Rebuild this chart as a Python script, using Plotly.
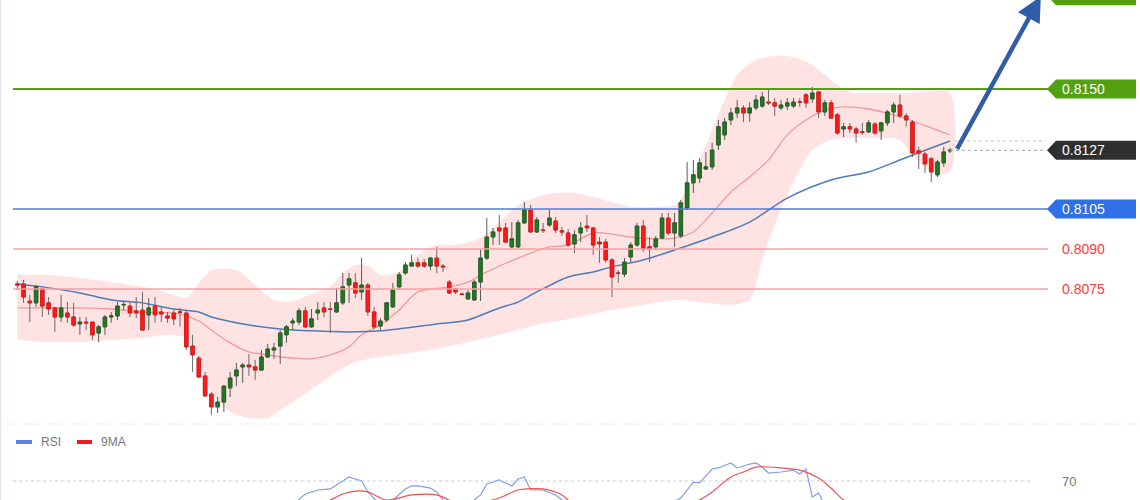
import plotly.graph_objects as go

# ---------------- data (prices) ----------------
opens = [0.80769,0.80769,0.80705,0.80698,0.80750,0.80698,0.80679,0.80645,0.80660,0.80645,
0.80619,0.80626,0.80626,0.80585,0.80608,0.80645,0.80649,0.80690,0.80686,0.80668,
0.80671,0.80653,0.80686,0.80664,0.80649,0.80660,0.80664,0.80660,0.80536,0.80491,
0.80424,0.80356,0.80308,0.80326,0.80379,0.80424,0.80458,0.80465,0.80458,0.80446,
0.80495,0.80521,0.80536,0.80578,0.80623,0.80626,0.80668,0.80608,0.80660,0.80679,
0.80675,0.80664,0.80698,0.80765,0.80773,0.80739,0.80765,0.80664,0.80611,0.80634,
0.80683,0.80758,0.80810,0.80836,0.80848,0.80848,0.80836,0.80866,0.80836,0.80776,
0.80750,0.80731,0.80713,0.80709,0.80776,0.80866,0.80945,0.80979,0.80979,0.80908,
0.80908,0.80998,0.81046,0.80964,0.80971,0.80990,0.81005,0.80968,0.80960,0.80919,
0.80960,0.80986,0.80979,0.80926,0.80926,0.80859,0.80810,0.80806,0.80870,0.80915,
0.80986,0.80908,0.80908,0.80941,0.81016,0.80960,0.80949,0.81054,0.81148,0.81166,
0.81200,0.81208,0.81290,0.81328,0.81384,0.81410,0.81429,0.81410,0.81429,0.81436,
0.81451,0.81448,0.81429,0.81436,0.81436,0.81452,0.81478,0.81463,0.81489,0.81414,
0.81448,0.81403,0.81350,0.81358,0.81350,0.81339,0.81339,0.81369,0.81343,0.81373,
0.81414,0.81440,0.81399,0.81376,0.81268,0.81256,0.81238,0.81178,0.81223,0.81268]
highs = [0.80780,0.80784,0.80728,0.80765,0.80754,0.80720,0.80683,0.80728,0.80701,0.80698,
0.80645,0.80645,0.80626,0.80615,0.80653,0.80664,0.80701,0.80705,0.80701,0.80720,
0.80739,0.80716,0.80720,0.80683,0.80664,0.80671,0.80679,0.80668,0.80578,0.80499,
0.80439,0.80364,0.80345,0.80390,0.80439,0.80473,0.80473,0.80506,0.80484,0.80521,
0.80544,0.80548,0.80596,0.80615,0.80641,0.80679,0.80683,0.80675,0.80701,0.80701,
0.80701,0.80754,0.80810,0.80810,0.80810,0.80866,0.80773,0.80683,0.80641,0.80701,
0.80773,0.80814,0.80851,0.80878,0.80866,0.80863,0.80870,0.80908,0.80844,0.80784,
0.80754,0.80735,0.80746,0.80784,0.80896,0.81016,0.80979,0.81028,0.80998,0.81001,
0.81009,0.81076,0.81065,0.81020,0.80998,0.81046,0.81020,0.80983,0.80975,0.80971,
0.81001,0.81028,0.80983,0.80945,0.80938,0.80866,0.80821,0.80866,0.80926,0.80998,
0.81009,0.80945,0.80949,0.81035,0.81035,0.81035,0.81084,0.81226,0.81234,0.81241,
0.81264,0.81298,0.81384,0.81391,0.81429,0.81459,0.81440,0.81451,0.81478,0.81489,
0.81496,0.81466,0.81459,0.81466,0.81466,0.81466,0.81485,0.81508,0.81493,0.81459,
0.81459,0.81410,0.81373,0.81373,0.81358,0.81373,0.81384,0.81376,0.81376,0.81421,
0.81451,0.81478,0.81410,0.81384,0.81283,0.81264,0.81245,0.81234,0.81283,0.81279]
lows = [0.80746,0.80698,0.80626,0.80683,0.80645,0.80653,0.80589,0.80626,0.80623,0.80608,
0.80578,0.80596,0.80559,0.80551,0.80578,0.80623,0.80634,0.80671,0.80645,0.80641,
0.80593,0.80596,0.80623,0.80626,0.80623,0.80615,0.80608,0.80521,0.80439,0.80416,
0.80345,0.80278,0.80285,0.80289,0.80345,0.80386,0.80398,0.80424,0.80409,0.80443,
0.80491,0.80488,0.80469,0.80548,0.80596,0.80615,0.80604,0.80604,0.80634,0.80645,
0.80585,0.80660,0.80690,0.80698,0.80716,0.80709,0.80649,0.80600,0.80596,0.80626,
0.80679,0.80746,0.80803,0.80833,0.80829,0.80829,0.80821,0.80810,0.80814,0.80731,
0.80731,0.80728,0.80709,0.80705,0.80705,0.80859,0.80915,0.80915,0.80923,0.80904,
0.80904,0.80994,0.80960,0.80960,0.80960,0.80983,0.80960,0.80949,0.80908,0.80885,
0.80926,0.80964,0.80878,0.80848,0.80848,0.80720,0.80773,0.80795,0.80851,0.80908,
0.80889,0.80851,0.80896,0.80938,0.80953,0.80908,0.80941,0.81046,0.81110,0.81148,
0.81196,0.81196,0.81271,0.81309,0.81365,0.81391,0.81376,0.81376,0.81421,0.81429,
0.81440,0.81399,0.81421,0.81421,0.81429,0.81433,0.81429,0.81448,0.81391,0.81399,
0.81388,0.81328,0.81320,0.81335,0.81298,0.81328,0.81335,0.81328,0.81309,0.81361,
0.81373,0.81391,0.81358,0.81245,0.81200,0.81185,0.81151,0.81170,0.81208,0.81260]
closes = [0.80765,0.80720,0.80698,0.80758,0.80686,0.80675,0.80645,0.80679,0.80645,0.80615,
0.80626,0.80623,0.80578,0.80608,0.80645,0.80649,0.80686,0.80692,0.80660,0.80660,
0.80596,0.80679,0.80653,0.80656,0.80641,0.80638,0.80663,0.80533,0.80503,0.80420,
0.80349,0.80308,0.80326,0.80386,0.80416,0.80446,0.80465,0.80458,0.80446,0.80495,
0.80525,0.80529,0.80585,0.80608,0.80630,0.80668,0.80608,0.80638,0.80671,0.80664,
0.80674,0.80698,0.80758,0.80788,0.80735,0.80765,0.80664,0.80608,0.80630,0.80698,
0.80746,0.80803,0.80840,0.80848,0.80836,0.80836,0.80866,0.80836,0.80833,0.80735,
0.80739,0.80730,0.80735,0.80776,0.80866,0.80945,0.80964,0.80968,0.80926,0.80938,
0.80998,0.81046,0.80964,0.81009,0.80970,0.81016,0.80971,0.80964,0.80915,0.80953,
0.80979,0.80979,0.80915,0.80919,0.80859,0.80795,0.80809,0.80851,0.80915,0.80986,
0.80900,0.80900,0.80938,0.81016,0.80960,0.80998,0.81073,0.81148,0.81178,0.81223,
0.81208,0.81271,0.81358,0.81376,0.81410,0.81429,0.81410,0.81429,0.81459,0.81470,
0.81448,0.81436,0.81440,0.81448,0.81451,0.81451,0.81448,0.81485,0.81414,0.81448,
0.81391,0.81335,0.81358,0.81350,0.81335,0.81338,0.81373,0.81335,0.81373,0.81414,
0.81440,0.81399,0.81384,0.81260,0.81260,0.81219,0.81189,0.81226,0.81264,0.81270]
bars = list(range(len(closes)))

# slow moving average (blue), read at sample bars
ma_slow_idx = [0,4,10,15,20,25,29,31,37,42,47,53,58,67,72,77,80,83,88,92,95,100,105,111,117,123,130,136,141,146,149]
ma_slow = [0.80769,0.80758,0.80735,0.80709,0.80698,0.80675,0.80664,0.80645,0.80615,0.80600,0.80593,0.80589,
           0.80593,0.80619,0.80634,0.80679,0.80701,0.80739,0.80795,0.80814,0.80833,0.80859,0.80896,0.80945,
           0.81001,0.81091,0.81159,0.81189,0.81234,0.81279,0.81305]
# fast moving average (red), read at sample bars
ma_fast_idx = [0,5,10,15,20,26,29,31,34,37,40,42,45,47,50,53,55,58,61,64,69,72,75,80,85,88,92,95,98,102,105,108,111,114,117,120,123,126,129,132,136,140,143,146,149]
ma_fast = [0.80679,0.80679,0.80679,0.80675,0.80664,0.80656,0.80630,0.80596,0.80548,0.80514,0.80503,0.80495,
           0.80490,0.80488,0.80503,0.80533,0.80578,0.80615,0.80671,0.80739,0.80758,0.80776,0.80814,0.80866,
           0.80908,0.80915,0.80960,0.80956,0.80945,0.80938,0.80941,0.80964,0.81035,0.81114,0.81170,0.81234,
           0.81328,0.81384,0.81421,0.81433,0.81425,0.81403,0.81380,0.81354,0.81328]
# Bollinger band envelope, read at sample bars
band_up_idx = [0,5,10,15,20,24,27,29,31,35,38,41,44,47,50,52,54,56,58,61,64,67,70,74,77,80,83,86,89,92,95,98,102,105,107,109,111,113,115,118,121,124,127,130,133,137,141,145,149]
band_up = [0.80803,0.80803,0.80791,0.80776,0.80758,0.80735,0.80716,0.80773,0.80821,0.80821,0.80765,0.80709,
           0.80705,0.80731,0.80758,0.80809,0.80839,0.80839,0.80803,0.80814,0.80878,0.80915,0.80915,0.80941,
           0.81001,0.81065,0.81095,0.81110,0.81110,0.81095,0.81076,0.81058,0.81058,0.81065,0.81121,0.81234,
           0.81346,0.81459,0.81553,0.81609,0.81624,0.81620,0.81590,0.81534,0.81489,0.81485,0.81485,0.81489,0.81485]
band_lo_idx = [0,5,10,15,20,24,27,29,31,34,37,40,42,45,48,51,54,58,64,70,77,83,89,95,100,105,110,114,117,119,121,123,125,127,130,134,138,141,143,146,149]
band_lo = [0.80559,0.80551,0.80551,0.80559,0.80566,0.80578,0.80566,0.80484,0.80364,0.80289,0.80266,0.80266,
           0.80296,0.80341,0.80390,0.80439,0.80476,0.80495,0.80514,0.80540,0.80578,0.80615,0.80641,0.80671,
           0.80690,0.80709,0.80698,0.80690,0.80709,0.80859,0.80990,0.81103,0.81196,0.81271,0.81309,0.81316,
           0.81316,0.81309,0.81252,0.81189,0.81189]

# RSI panel (read; values below the panel are estimates)
rsi_idx = [0,10,20,30,40,44,46,48,50,52,53,55,56,58,60,62,63,64,66,67,69,72,74,75,77,79,80,81,82,84,86,88,
           92,96,100,104,106,107,108,109,111,112,114,115,117,118,119,120,122,124,125,126,127,128,129,131,135,140,145,149]
rsi = [45,42,45,30,48,54,61.3,64,64.7,70,72.7,70,62.7,54,57.3,64.7,66.7,66.7,65.3,62.7,52,54,60.7,68,70.7,66.7,71.3,72.7,
       64,64,60.7,54,45,40,45,54,58.7,64,69.3,68.7,78,78.7,82,78.7,81.3,82,79.3,75.3,76,77.3,74.7,78,59.3,62,54,48,45,38,32,40]
ma9_idx = [0,10,20,30,40,46,50,52,54,56,59,63,67,71,77,80,84,87,89,95,100,105,109,111,114,116,118,122,125,128,130,132,137,143,149]
ma9 = [48,46,44,40,44,50,57.3,61.3,63.3,62.7,57.3,60.7,60.7,54,58.7,64,64.7,60.7,54,48,45,50,57.3,62.7,72.7,76,79.3,78.7,
       77.3,72,65.3,57.3,48,40,36]

levels = [0.8150, 0.8127, 0.8105, 0.8090, 0.8075]
level_labels = ["0.8150", "0.8127", "0.8105", "0.8090", "0.8075"]
target = 0.8185
rsi_level = 70

# ---------------- figure ----------------
X_RANGE = [-2.764, 179.35]
Y_RANGE = [0.80240, 0.8183375]
fig = go.Figure()

# band and moving averages on the base price axis (drawn underneath)
band_x = band_up_idx + band_lo_idx[::-1]
band_y = band_up + band_lo[::-1]
fig.add_trace(go.Scatter(x=band_x, y=band_y, mode="lines", fill="toself",
                         fillcolor="rgba(255,200,200,0.5)", line=dict(width=0, shape="spline", smoothing=0.8),
                         hoverinfo="skip", showlegend=False))
fig.add_trace(go.Scatter(x=ma_fast_idx, y=ma_fast, mode="lines",
                         line=dict(color="#f29a9a", width=1.3, shape="spline", smoothing=0.8), showlegend=False))
fig.add_trace(go.Scatter(x=ma_slow_idx, y=ma_slow, mode="lines",
                         line=dict(color="#4f7bb8", width=1.5, shape="spline", smoothing=0.8), showlegend=False))

GREEN = "#1e7a1e"
RED = "#ff1a1a"
# candles on an overlaying price axis so they sit above the band
fig.add_trace(go.Candlestick(x=bars, open=opens, high=highs, low=lows, close=closes, yaxis="y3",
                             increasing=dict(fillcolor=GREEN, line=dict(color="#5a5a5a", width=1)),
                             decreasing=dict(fillcolor=RED, line=dict(color="#6a6a6a", width=1)),
                             whiskerwidth=0, showlegend=False, hoverinfo="skip"))
body_hi = [max(o, c) for o, c in zip(opens, closes)]
body_lo = [min(o, c) for o, c in zip(opens, closes)]
fig.add_trace(go.Candlestick(x=bars, open=opens, high=body_hi, low=body_lo, close=closes, yaxis="y3",
                             increasing=dict(fillcolor=GREEN, line=dict(color="#2a5f2a", width=0.8)),
                             decreasing=dict(fillcolor=RED, line=dict(color="#ee1111", width=0.8)),
                             whiskerwidth=0, showlegend=False))

fig.add_trace(go.Scatter(x=rsi_idx, y=rsi, xaxis="x2", yaxis="y2", mode="lines",
                         line=dict(color="#7f9ee6", width=1.2), showlegend=False))
fig.add_trace(go.Scatter(x=ma9_idx, y=ma9, xaxis="x2", yaxis="y2", mode="lines",
                         line=dict(color="#f05050", width=1.2, shape="spline", smoothing=0.8), showlegend=False))

W = 1140.0
def px(x):
    return x / W

shapes = []
line_styles = {
    "0.8150": dict(color="#55a011", width=2),
    "0.8127": None,
    "0.8105": dict(color="#4a7be0", width=1.5),
    "0.8090": dict(color="#f6a0a0", width=1.5),
    "0.8075": dict(color="#f6a0a0", width=1.5),
}
for lv, lab in zip(levels, level_labels):
    st = line_styles[lab]
    if st is not None:
        shapes.append(dict(type="line", xref="paper", yref="y", x0=px(13), x1=px(1048), y0=lv, y1=lv,
                           line=st, layer="above"))
# dotted price lines
shapes.append(dict(type="line", xref="paper", yref="y", x0=px(950), x1=px(1046), y0=levels[1], y1=levels[1],
                   line=dict(color="#9aa3c0", width=1, dash="dot"), layer="above"))
shapes.append(dict(type="line", xref="paper", yref="y", x0=px(955), x1=px(1046), y0=ma_slow[-1], y1=ma_slow[-1],
                   line=dict(color="#b7bfd8", width=1, dash="dot"), layer="above"))

# label boxes with notch
box_colors = {"0.8150": "#55a011", "0.8127": "#2f2f2f", "0.8105": "#2f6fe8"}
tag_path = "M 0 0 L 9 9.5 L 89 9.5 L 89 -9.5 L 9 -9.5 Z"
for lv, lab in zip(levels, level_labels):
    if lab in box_colors:
        shapes.append(dict(type="path", xref="paper", yref="y", xsizemode="pixel", ysizemode="pixel",
                           xanchor=px(1047), yanchor=lv, path=tag_path,
                           fillcolor=box_colors[lab], line=dict(width=0), layer="above"))
shapes.append(dict(type="path", xref="paper", yref="y", xsizemode="pixel", ysizemode="pixel",
                   xanchor=px(1047), yanchor=target, path=tag_path,
                   fillcolor="#55a011", line=dict(width=0), layer="above"))

# panel separator, left border, RSI 70 line, RSI legend
shapes.append(dict(type="line", xref="paper", yref="paper", x0=0, x1=1, y0=1 - 424 / 500, y1=1 - 424 / 500,
                   line=dict(color="#e3e6ee", width=1, dash="dot")))
shapes.append(dict(type="line", xref="paper", yref="paper", x0=px(0.5), x1=px(0.5), y0=0, y1=1,
                   line=dict(color="#dfe3ea", width=1)))
shapes.append(dict(type="line", xref="paper", yref="y2", x0=px(13), x1=px(1032), y0=rsi_level, y1=rsi_level,
                   line=dict(color="#c5cbe0", width=1, dash="dot")))
shapes.append(dict(type="rect", xref="paper", yref="paper", x0=px(16), x1=px(32), y0=1 - 444 / 500, y1=1 - 440 / 500,
                   fillcolor="#5b82e0", line=dict(width=0)))
shapes.append(dict(type="rect", xref="paper", yref="paper", x0=px(77), x1=px(92), y0=1 - 444 / 500, y1=1 - 440 / 500,
                   fillcolor="#ee1c1c", line=dict(width=0)))

annotations = []
font_main = "Liberation Sans, Arial, sans-serif"
for lv, lab in zip(levels, level_labels):
    col = "#ffffff" if lab in box_colors else "#ff3a3a"
    annotations.append(dict(xref="paper", yref="y", x=px(1060), y=lv, xanchor="left", yanchor="middle",
                            text=lab, showarrow=False, font=dict(family=font_main, size=14, color=col)))
annotations.append(dict(xref="paper", yref="y2", x=px(1060), y=rsi_level, xanchor="left", yanchor="middle",
                        text=str(rsi_level), showarrow=False, font=dict(family=font_main, size=13, color="#777777")))
annotations.append(dict(xref="paper", yref="paper", x=px(39), y=1 - 442 / 500, xanchor="left", yanchor="middle",
                        text="RSI", showarrow=False, font=dict(family=font_main, size=12, color="#777777")))
annotations.append(dict(xref="paper", yref="paper", x=px(99), y=1 - 442 / 500, xanchor="left", yanchor="middle",
                        text="9MA", showarrow=False, font=dict(family=font_main, size=12, color="#777777")))
# forecast arrow from the last price towards the target level
annotations.append(dict(xref="x", yref="y", axref="x", ayref="y",
                        x=bars[-1] + 14.5, y=target - 0.00003, ax=bars[-1] + 1.0, ay=levels[1],
                        text="", showarrow=True, arrowhead=2, arrowsize=1.1, arrowwidth=4.5, arrowcolor="#2f5ea6"))

fig.update_layout(
    width=1140, height=500, margin=dict(l=0, r=0, t=0, b=0),
    paper_bgcolor="white", plot_bgcolor="white",
    showlegend=False, boxgap=0.2,
    xaxis=dict(range=X_RANGE, visible=False, domain=[0, 1], anchor="y", rangeslider=dict(visible=False)),
    yaxis=dict(range=Y_RANGE, visible=False, domain=[0.15, 1.0], anchor="x"),
    yaxis3=dict(range=Y_RANGE, visible=False, overlaying="y", anchor="x"),
    xaxis2=dict(range=X_RANGE, visible=False, domain=[0, 1], anchor="y2"),
    yaxis2=dict(range=[57.33, 104], visible=False, domain=[0, 0.14], anchor="x2"),
    shapes=shapes, annotations=annotations,
)

fig.write_html("out.html")
